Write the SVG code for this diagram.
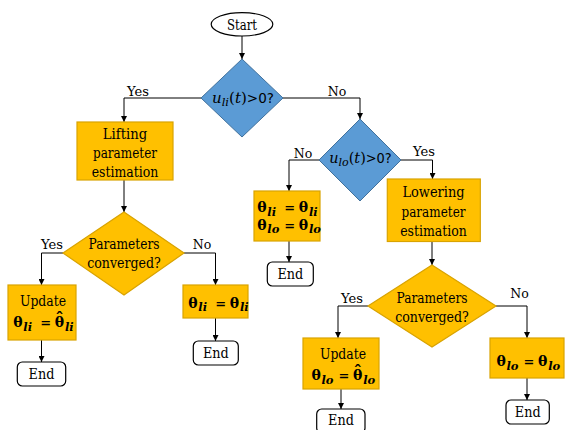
<svg xmlns="http://www.w3.org/2000/svg" width="565" height="430" viewBox="0 0 565 430">
<style>
text{font-family:'DejaVu Serif',serif;fill:#000}
.t{font-size:14.5px;text-anchor:middle}
.l{font-size:13.5px;text-anchor:middle}
.m{font-size:14px;font-weight:bold}
.s{font-style:italic;font-size:11.5px}
.e{font-size:13px}
.hat{font-size:17px}
.q{font-size:15px;text-anchor:middle}
.sans{font-family:'DejaVu Sans',sans-serif;font-size:13.5px;font-style:normal}
.i{font-style:italic}
.blue{fill:#5B9BD5;stroke:#41719C;stroke-width:1}
.or{fill:#FFC000;stroke:#D9A300;stroke-width:1.2}
.end{fill:#fff;stroke:#000;stroke-width:1.2}
.c path{fill:none;stroke:#000;stroke-width:1;marker-end:url(#arr)}
</style>
<defs>
<marker id="arr" markerWidth="6" markerHeight="6" refX="6" refY="3" orient="auto" markerUnits="userSpaceOnUse"><path d="M0,0 L6,3 L0,6 z" fill="#000"/></marker>
</defs>
<rect width="565" height="430" fill="#fff"/>
<g class="c" id="connectors">
<path d="M242,36 V59"/>
<path d="M201,98 H124 V122"/>
<path d="M283,98 H360 V119"/>
<path d="M124,180 V212"/>
<path d="M63,253 H41.5 V285"/>
<path d="M184,253 H215.5 V285"/>
<path d="M41.5,340 V362"/>
<path d="M215.5,318 V341"/>
<path d="M319,160 H289 V191"/>
<path d="M401,160 H432.5 V179"/>
<path d="M289,241 V262"/>
<path d="M432,242 V265"/>
<path d="M368,306 H338 V338"/>
<path d="M496,306 H527 V338"/>
<path d="M341,389 V409"/>
<path d="M527,378 V400"/>
</g>
<g id="labels">
<text class="l" x="138" y="96" textLength="22" lengthAdjust="spacingAndGlyphs">Yes</text>
<text class="l" x="337" y="96" textLength="18.5" lengthAdjust="spacingAndGlyphs">No</text>
<text class="l" x="52" y="249" textLength="22" lengthAdjust="spacingAndGlyphs">Yes</text>
<text class="l" x="202" y="249" textLength="18.5" lengthAdjust="spacingAndGlyphs">No</text>
<text class="l" x="303" y="158" textLength="18.5" lengthAdjust="spacingAndGlyphs">No</text>
<text class="l" x="424" y="155.5" textLength="22" lengthAdjust="spacingAndGlyphs">Yes</text>
<text class="l" x="352" y="303" textLength="22" lengthAdjust="spacingAndGlyphs">Yes</text>
<text class="l" x="519.5" y="298" textLength="18.5" lengthAdjust="spacingAndGlyphs">No</text>
</g>
<g id="start">
<ellipse cx="242" cy="24.3" rx="30.8" ry="11.7" fill="#fff" stroke="#000" stroke-width="1.2"/>
<text class="t" x="242" y="29.5" textLength="30" lengthAdjust="spacingAndGlyphs">Start</text>
</g>
<g id="d1">
<polygon class="blue" points="242,59 283,98 242,137 201,98"/>
<text class="q" x="243" y="103" textLength="62" lengthAdjust="spacingAndGlyphs"><tspan class="i">u</tspan><tspan class="s" dy="3">li</tspan><tspan dy="-3">(</tspan><tspan class="i">t</tspan>)<tspan class="sans">&gt;0?</tspan></text>
</g>
<g id="lifting">
<rect class="or" x="77" y="122" width="96" height="58"/>
<text class="t" x="125" y="138.5" textLength="44.4" lengthAdjust="spacingAndGlyphs">Lifting</text>
<text class="t" x="125" y="157.5" textLength="64" lengthAdjust="spacingAndGlyphs">parameter</text>
<text class="t" x="125" y="177" textLength="66.7" lengthAdjust="spacingAndGlyphs">estimation</text>
</g>
<g id="d2">
<polygon class="or" points="124,212 184,253 124,295 63,253"/>
<text class="t" x="124" y="248.5" textLength="71" lengthAdjust="spacingAndGlyphs">Parameters</text>
<text class="t" x="124" y="268" textLength="73.7" lengthAdjust="spacingAndGlyphs">converged?</text>
</g>
<g id="update-li">
<rect class="or" x="8" y="285" width="68" height="55"/>
<text class="t" x="43" y="306" textLength="46.2" lengthAdjust="spacingAndGlyphs">Update</text>
<text class="m" y="327"><tspan x="13.3">θ</tspan><tspan class="s" x="23.3" dy="3.5">li</tspan><tspan class="e" x="40.3" dy="-3.5">=</tspan><tspan x="54.8">θ</tspan><tspan class="hat" x="55.2" dy="-3">ˆ</tspan><tspan class="s" x="65" dy="6.5">li</tspan></text>
</g>
<g id="keep-li">
<rect class="or" x="183" y="285" width="65" height="33"/>
<text class="m" y="307.5"><tspan x="188.3">θ</tspan><tspan class="s" x="198.3" dy="3.5">li</tspan><tspan class="e" x="215.3" dy="-3.5">=</tspan><tspan x="229.8">θ</tspan><tspan class="s" x="240" dy="3.5">li</tspan></text>
</g>
<g id="end1">
<rect class="end" x="17.3" y="362" width="48.4" height="24" rx="5"/>
<text class="t" x="41.5" y="379" textLength="25.8" lengthAdjust="spacingAndGlyphs">End</text>
</g>
<g id="end2">
<rect class="end" x="193.3" y="341" width="45" height="24" rx="5"/>
<text class="t" x="215.8" y="358" textLength="25.8" lengthAdjust="spacingAndGlyphs">End</text>
</g>
<g id="d3">
<polygon class="blue" points="360,119 401,160 360,201 319,160"/>
<text class="q" x="360.5" y="163" textLength="62.5" lengthAdjust="spacingAndGlyphs"><tspan class="i">u</tspan><tspan class="s" dy="3">lo</tspan><tspan dy="-3">(</tspan><tspan class="i">t</tspan>)<tspan class="sans">&gt;0?</tspan></text>
</g>
<g id="keep-both">
<rect class="or" x="254" y="191" width="66" height="50"/>
<text class="m" y="212"><tspan x="257.3">θ</tspan><tspan class="s" x="267.3" dy="3.5">li</tspan><tspan class="e" x="284.3" dy="-3.5">=</tspan><tspan x="298.8">θ</tspan><tspan class="s" x="309" dy="3.5">li</tspan></text>
<text class="m" y="229.5"><tspan x="257.3">θ</tspan><tspan class="s" x="267.3" dy="3.5">lo</tspan><tspan class="e" x="284.3" dy="-3.5">=</tspan><tspan x="298.8">θ</tspan><tspan class="s" x="309" dy="3.5">lo</tspan></text>
</g>
<g id="end3">
<rect class="end" x="267.3" y="262" width="46" height="24" rx="5"/>
<text class="t" x="290.3" y="279" textLength="25.8" lengthAdjust="spacingAndGlyphs">End</text>
</g>
<g id="lowering">
<rect class="or" x="387.3" y="179" width="93" height="62.5"/>
<text class="t" x="433.5" y="197" textLength="62.2" lengthAdjust="spacingAndGlyphs">Lowering</text>
<text class="t" x="433.5" y="217" textLength="64" lengthAdjust="spacingAndGlyphs">parameter</text>
<text class="t" x="433.5" y="236" textLength="66.7" lengthAdjust="spacingAndGlyphs">estimation</text>
</g>
<g id="d4">
<polygon class="or" points="432,265 496,306 432,347 368,306"/>
<text class="t" x="432" y="303" textLength="71" lengthAdjust="spacingAndGlyphs">Parameters</text>
<text class="t" x="432" y="321.5" textLength="73.7" lengthAdjust="spacingAndGlyphs">converged?</text>
</g>
<g id="update-lo">
<rect class="or" x="303" y="338" width="76" height="51"/>
<text class="t" x="343" y="359" textLength="46.2" lengthAdjust="spacingAndGlyphs">Update</text>
<text class="m" y="380"><tspan x="311.5">θ</tspan><tspan class="s" x="321.5" dy="3.5">lo</tspan><tspan class="e" x="338.5" dy="-3.5">=</tspan><tspan x="353">θ</tspan><tspan class="hat" x="353.4" dy="-3">ˆ</tspan><tspan class="s" x="363.2" dy="6.5">lo</tspan></text>
</g>
<g id="keep-lo">
<rect class="or" x="490" y="338" width="74" height="40"/>
<text class="m" y="366"><tspan x="496.5">θ</tspan><tspan class="s" x="506.5" dy="3.5">lo</tspan><tspan class="e" x="523.5" dy="-3.5">=</tspan><tspan x="538">θ</tspan><tspan class="s" x="548.2" dy="3.5">lo</tspan></text>
</g>
<g id="end4">
<rect class="end" x="316.7" y="409" width="48.3" height="24" rx="5"/>
<text class="t" x="341" y="425" textLength="25.8" lengthAdjust="spacingAndGlyphs">End</text>
</g>
<g id="end5">
<rect class="end" x="506" y="400" width="43.3" height="24" rx="5"/>
<text class="t" x="527.7" y="417" textLength="25.8" lengthAdjust="spacingAndGlyphs">End</text>
</g>
</svg>
